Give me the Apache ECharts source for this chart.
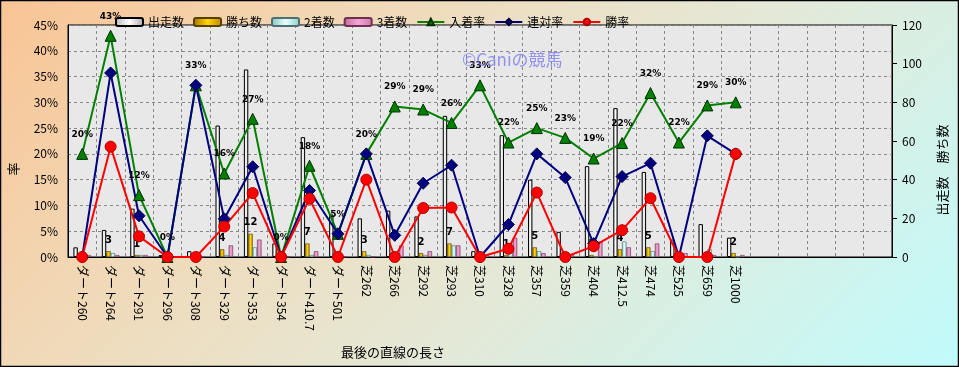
<!DOCTYPE html>
<html>
<head>
<meta charset="utf-8">
<script src="https://cdn.jsdelivr.net/npm/echarts@6/dist/echarts.min.js"></script>
<style>html,body{margin:0;padding:0;}#c{width:959px;height:367px;}</style>
</head>
<body>
<div id="c"></div>
<script>
const categories = ['ダート260','ダート264','ダート291','ダート296','ダート308','ダート329','ダート353','ダート354','ダート410.7','ダート501','芝262','芝266','芝292','芝293','芝310','芝328','芝357','芝359','芝404','芝412.5','芝474','芝525','芝659','芝1000','','','','',''];
const starts  = [5,14,25,1,3,68,97,7,62,22,20,24,21,73,3,63,40,13,47,77,44,9,17,10];
const wins    = [0,3,1,0,0,4,12,0,7,0,3,0,2,7,0,1,5,0,1,4,5,0,0,2];
const seconds = [0,2,1,0,1,1,5,0,1,1,1,1,1,6,0,3,3,2,0,8,3,0,4,0];
const thirds  = [1,1,1,0,0,6,9,0,3,0,0,6,3,6,1,10,2,1,8,5,7,2,1,1];
const placeRate  = [20,42.9,12,0,33.3,16.2,26.8,0,17.7,4.5,20,29.2,28.6,26,33.3,22.2,25,23.1,19.1,22.1,31.8,22.2,29.4,30];
const rentaiRate = [0,35.7,8,0,33.3,7.4,17.5,0,12.9,4.5,20,4.2,14.3,17.8,0,6.3,20,15.4,2.6,15.6,18.2,0,23.5,20];
const winRate    = [0,21.4,4,0,0,5.9,12.4,0,11.3,0,15,0,9.5,9.6,0,1.6,12.5,0,2.1,5.2,11.4,0,0,20];
const pctTicks = {min:0, max:45, interval:5};
const cntTicks = {min:0, max:120, interval:20};

function hgrad(a,b,c){return {type:'linear',x:0,y:0,x2:1,y2:0,colorStops:[{offset:0,color:a},{offset:0.5,color:b},{offset:1,color:c}]};}
const jp = '"Noto Sans CJK JP", "Noto Sans", sans-serif';
const chart = echarts.init(document.getElementById('c'));
const barBase = {type:'bar', yAxisIndex:1, barWidth:4.4, barGap:'0%'};
chart.setOption({
  animation:false,
  backgroundColor:{type:'linear',x:0,y:0,x2:663,y2:663,global:true,colorStops:[{offset:0,color:'#f9c494'},{offset:0.3,color:'#f0dab9'},{offset:0.6,color:'#e4e9d8'},{offset:1,color:'#c0fbfb'}]},
  textStyle:{fontFamily:jp},
  legend:{left:110, top:11, itemGap:9, itemWidth:27, itemHeight:8, textStyle:{fontSize:12, color:'#000', fontFamily:jp},
    data:['出走数','勝ち数','2着数','3着数','入着率','連対率','勝率']},
  grid:{left:68, right:67, top:25, bottom:110, show:true, backgroundColor:'#e8e8e8', borderColor:'#000', borderWidth:1},
  xAxis:{type:'category', data:categories, boundaryGap:true,
    axisLine:{lineStyle:{color:'#000'}}, axisTick:{show:false},
    axisLabel:{interval:0, rotate:-90, margin:8, fontSize:12, color:'#000', fontFamily:jp},
    splitLine:{show:true, interval:0, lineStyle:{color:'#888', type:[3,3], width:1}}},
  yAxis:[
    {type:'value', min:pctTicks.min, max:pctTicks.max, interval:pctTicks.interval, position:'left',
      axisLine:{show:true, lineStyle:{color:'#000'}}, axisTick:{show:false},
      axisLabel:{formatter:'{value}%', fontSize:12, color:'#000', margin:10},
      splitLine:{show:true, lineStyle:{color:'#888', type:[3,3]}}},
    {type:'value', min:cntTicks.min, max:cntTicks.max, interval:cntTicks.interval, position:'right',
      axisLine:{show:true, lineStyle:{color:'#000'}}, axisTick:{show:true, inside:false, length:5, lineStyle:{color:'#000'}},
      axisLabel:{fontSize:12, color:'#000', margin:10},
      splitLine:{show:false}}
  ],
  graphic:[
    {type:'text', left:462, top:51, z:100, style:{text:'©Caniの競馬', fontSize:17, fill:'rgba(125,125,240,0.8)', fontFamily:jp}},
    {type:'text', x:13, y:169, rotation:Math.PI/2, style:{text:'率', fontSize:13, fill:'#000', align:'center', verticalAlign:'middle', fontFamily:jp}},
    {type:'text', x:942, y:170, rotation:Math.PI/2, style:{text:'出走数　勝ち数', fontSize:13, fill:'#000', align:'center', verticalAlign:'middle', fontFamily:jp}},
    {type:'text', x:393, y:352, style:{text:'最後の直線の長さ', fontSize:13, fill:'#000', align:'center', verticalAlign:'middle', fontFamily:jp}},
    {type:'rect', shape:{x:0.5,y:0.5,width:958,height:366}, style:{fill:'none', stroke:'#000', lineWidth:1.5}, z:100}
  ],
  series:[
    Object.assign({}, barBase, {name:'出走数', data:starts, itemStyle:{color:hgrad('#b8b8b8','#ffffff','#a8a8a8'), borderColor:'#000', borderWidth:1}}),
    Object.assign({}, barBase, {name:'勝ち数', data:wins, itemStyle:{color:hgrad('#a07000','#ffd800','#b88800'), borderColor:'#5a4000', borderWidth:0.6},
      label:{show:true, position:'top', distance:6, fontSize:10, fontWeight:'bold', color:'#000', fontFamily:'"DejaVu Sans", sans-serif',
        formatter:p=>p.value>0?String(p.value):''}}),
    Object.assign({}, barBase, {name:'2着数', data:seconds, itemStyle:{color:hgrad('#80c4c4','#e8ffff','#90d0d0'), borderColor:'#507070', borderWidth:0.6}}),
    Object.assign({}, barBase, {name:'3着数', data:thirds, itemStyle:{color:hgrad('#c06898','#f4a8d8','#c878a8'), borderColor:'#703050', borderWidth:0.6}}),
    {name:'入着率', type:'line', yAxisIndex:0, data:placeRate, symbol:'triangle', symbolSize:11,
      lineStyle:{color:'#008000', width:2}, itemStyle:{color:'#008000', borderColor:'#003000', borderWidth:1},
      label:{show:true, position:'top', distance:9, fontSize:9, fontWeight:'bold', color:'#000', fontFamily:'"DejaVu Sans", sans-serif',
        formatter:p=>Math.round(p.value)+'%'}},
    {name:'連対率', type:'line', yAxisIndex:0, data:rentaiRate, symbol:'diamond', symbolSize:12,
      lineStyle:{color:'#000080', width:2}, itemStyle:{color:'#000080', borderColor:'#000040', borderWidth:1}},
    {name:'勝率', type:'line', yAxisIndex:0, data:winRate, symbol:'circle', symbolSize:11,
      lineStyle:{color:'#ff0000', width:2}, itemStyle:{color:'#ff0000', borderColor:'#b00000', borderWidth:1}}
  ]
});
</script>
</body>
</html>
